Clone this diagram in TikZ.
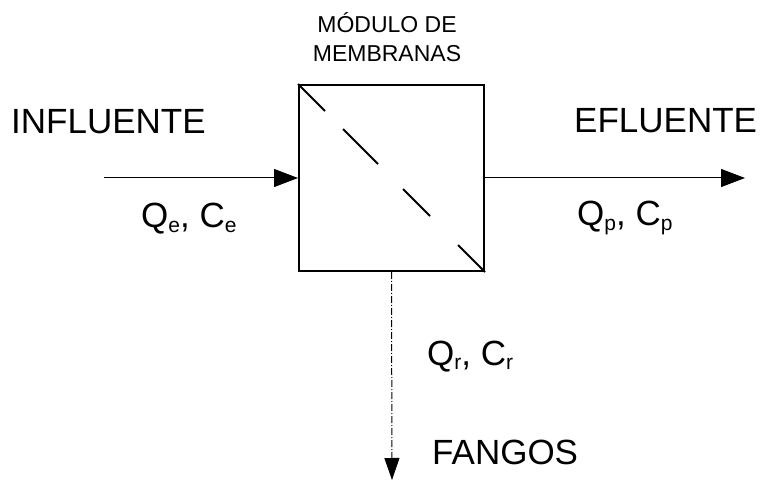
\documentclass[tikz,border=0pt]{standalone}
\usepackage{fontspec}
\setmainfont{Liberation Sans}
\usetikzlibrary{arrows.meta,calc}
\newcommand\lsub[1]{\raisebox{-0.25ex}{\fontsize{21}{21}\selectfont #1}}
\begin{document}
\begin{tikzpicture}[x=1pt,y=-1pt,
  big/.style={inner sep=0pt,anchor=base west,font=\fontsize{35}{38}\selectfont},
  small/.style={inner sep=0pt,anchor=base,font=\fontsize{23}{26}\selectfont},
  flow/.style={line width=1pt,-{Triangle[length=24pt,width=18pt]}},
  membox/.style={draw,line width=2pt,minimum width=185pt,minimum height=186pt,inner sep=0pt},
  memline/.style={line width=2pt},
  waste/.style={line width=1pt,dash pattern=on 7pt off 2pt on 1pt off 2pt,-{Triangle[length=22pt,width=15pt]}}]
\useasboundingbox (0,0) rectangle (761,481);
\node[membox] (box) at (391.5,178) {};
\coordinate (in) at (104,178);
\coordinate (out) at (745,178);
\coordinate (down) at (392,480);
% membrane dashes
\draw[memline] (box.north west) -- ++(27,27);
\draw[memline] ($(box.north west)+(45,45)$) -- ++(35,35);
\draw[memline] ($(box.north west)+(105,105)$) -- ++(27,27);
\draw[memline] ($(box.south east)+(-27,-27)$) -- (box.south east);
\draw[flow] (in) -- (box.west);
\draw[flow] (box.east) -- (out);
\draw[waste] (box.south) -- (down);
\node[small] (mod1) at (387,33) {MÓDULO DE};
\node[small] (mod2) at (387,62) {MEMBRANAS};
\node[big] (infl) at (11,134) {INFLUENTE};
\node[big] (efl) at (574,133) {EFLUENTE};
\node[big] (qe) at (141,228) {Q\lsub{e}, C\lsub{e}};
\node[big] (qp) at (577,226) {Q\lsub{p}, C\lsub{p}};
\node[big] (qr) at (427,365) {Q\lsub{r}, C\lsub{r}};
\node[big] (fang) at (432,464) {FANGOS};
\end{tikzpicture}
\end{document}
